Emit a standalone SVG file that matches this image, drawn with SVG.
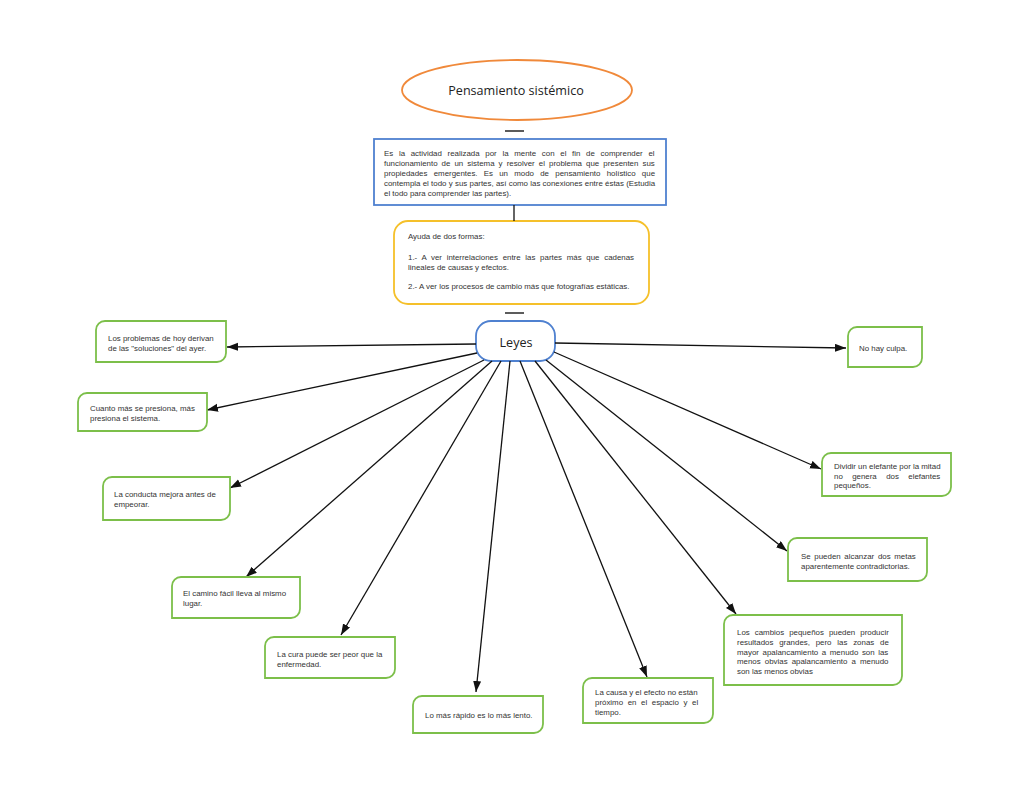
<svg xmlns="http://www.w3.org/2000/svg" width="1024" height="791" viewBox="0 0 1024 791">
<defs>
<marker id="arr" markerWidth="12" markerHeight="9" refX="11" refY="4" orient="auto" markerUnits="userSpaceOnUse">
<path d="M0,0 L11,4 L0,8 z" fill="#111"/>
</marker>
<style>
.t{font-family:"Liberation Sans",Arial,sans-serif;font-size:7.9px;fill:#333}
.big{font-family:"Open Sans","Noto Sans",sans-serif;font-size:12.6px;fill:#222}
.g{fill:#fff;stroke:#7cbf4a;stroke-width:1.8}
.c{stroke:#111;stroke-width:1.3;fill:none;marker-end:url(#arr)}
.d{stroke:#333;stroke-width:1.6}
</style>
</defs>
<rect width="1024" height="791" fill="#fff"/>

<g id="title">
<ellipse cx="517" cy="90" rx="115" ry="30" fill="#fff" stroke="#f0893a" stroke-width="1.8"/>
<text class="big" x="516" y="94.5" text-anchor="middle">Pensamiento sistémico</text>
</g>
<line class="d" x1="505" y1="131" x2="524" y2="131"/>

<g id="definicion">
<rect x="374" y="139" width="292" height="66" fill="#fff" stroke="#4f81d0" stroke-width="1.8"/>
<text class="t" x="384" y="156" word-spacing="3.5">Es la actividad realizada por la mente con el fin de comprender el</text>
<text class="t" x="384" y="166" word-spacing="1.9">funcionamiento de un sistema y resolver el problema que presenten sus</text>
<text class="t" x="384" y="176" word-spacing="4.05">propiedades emergentes. Es un modo de pensamiento holístico que</text>
<text class="t" x="384" y="186" word-spacing="0.08">contempla el todo y sus partes, así como las conexiones entre éstas (Estudia</text>
<text class="t" x="384" y="196">el todo para comprender las partes).</text>
</g>

<g id="ayuda">
<rect x="394" y="221" width="255" height="83" rx="14" ry="14" fill="#fff" stroke="#f5c02a" stroke-width="1.8"/>
<text class="t" x="408" y="239">Ayuda de dos formas:</text>
<text class="t" x="408" y="260" word-spacing="2.5">1.- A ver interrelaciones entre las partes más que cadenas</text>
<text class="t" x="408" y="269.5">lineales de causas y efectos.</text>
<text class="t" x="408" y="289">2.- A ver los procesos de cambio más que fotografías estáticas.</text>
</g>
<line class="d" x1="505" y1="313" x2="524" y2="313"/>

<g id="leyes">
<rect x="476" y="321" width="79" height="40" rx="15" ry="15" fill="#fff" stroke="#4f81d0" stroke-width="1.8"/>
<text class="big" x="516" y="347" text-anchor="middle">Leyes</text>
</g>

<g id="connectors">
<line x1="514" y1="205" x2="514" y2="221" stroke="#111" stroke-width="1.3"/>
<line class="c" x1="476" y1="344" x2="227" y2="347"/>
<line class="c" x1="477" y1="353" x2="207" y2="410"/>
<line class="c" x1="484" y1="360" x2="230" y2="488"/>
<line class="c" x1="492" y1="361" x2="246" y2="577"/>
<line class="c" x1="501" y1="361" x2="341" y2="635"/>
<line class="c" x1="510" y1="361" x2="476" y2="692"/>
<line class="c" x1="520" y1="361" x2="647" y2="677"/>
<line class="c" x1="535" y1="361" x2="736" y2="614"/>
<line class="c" x1="555" y1="343" x2="846" y2="348"/>
<line class="c" x1="554" y1="352" x2="821" y2="469"/>
<line class="c" x1="546" y1="360" x2="787" y2="551"/>
</g>

<g id="n1">
<path class="g" d="M105,321 H226 V353 A9 9 0 0 1 217,362 H96 V330 A9 9 0 0 1 105,321 Z"/>
<text class="t" x="108" y="341">Los problemas de hoy derivan</text>
<text class="t" x="108" y="351">de las "soluciones" del ayer.</text>
</g>
<g id="n2">
<path class="g" d="M87,393 H207 V422 A9 9 0 0 1 198,431 H78 V402 A9 9 0 0 1 87,393 Z"/>
<text class="t" x="90" y="411">Cuanto más se presiona, más</text>
<text class="t" x="90" y="421">presiona el sistema.</text>
</g>
<g id="n3">
<path class="g" d="M112,477 H230 V511 A9 9 0 0 1 221,520 H103 V486 A9 9 0 0 1 112,477 Z"/>
<text class="t" x="114" y="496.5">La conducta mejora antes de</text>
<text class="t" x="114" y="506.5">empeorar.</text>
</g>
<g id="n4">
<path class="g" d="M181,577 H300 V609 A9 9 0 0 1 291,618 H172 V586 A9 9 0 0 1 181,577 Z"/>
<text class="t" x="183" y="596">El camino fácil lleva al mismo</text>
<text class="t" x="183" y="606">lugar.</text>
</g>
<g id="n5">
<path class="g" d="M274,637 H395 V669 A9 9 0 0 1 386,678 H265 V646 A9 9 0 0 1 274,637 Z"/>
<text class="t" x="277" y="656.5">La cura puede ser peor que la</text>
<text class="t" x="277" y="666.5">enfermedad.</text>
</g>
<g id="n6">
<path class="g" d="M422,696 H543 V724 A9 9 0 0 1 534,733 H413 V705 A9 9 0 0 1 422,696 Z"/>
<text class="t" x="425" y="717.5">Lo más rápido es lo más lento.</text>
</g>
<g id="n7">
<path class="g" d="M592,678 H713 V714 A9 9 0 0 1 704,723 H583 V687 A9 9 0 0 1 592,678 Z"/>
<text class="t" x="595" y="694.5">La causa y el efecto no están</text>
<text class="t" x="595" y="704.5" word-spacing="2.4">próximo en el espacio y el</text>
<text class="t" x="595" y="714.5">tiempo.</text>
</g>
<g id="n8">
<path class="g" d="M733,615 H902 V676 A9 9 0 0 1 893,685 H724 V624 A9 9 0 0 1 733,615 Z"/>
<text class="t" x="737" y="635" word-spacing="2.85">Los cambios pequeños pueden producir</text>
<text class="t" x="737" y="644.8" word-spacing="3.6">resultados grandes, pero las zonas de</text>
<text class="t" x="737" y="654.6" word-spacing="1.4">mayor apalancamiento a menudo son las</text>
<text class="t" x="737" y="664.4" word-spacing="1.9">menos obvias apalancamiento a menudo</text>
<text class="t" x="737" y="674.2">son las menos obvias</text>
</g>
<g id="n9">
<path class="g" d="M857,327 H922 V358 A9 9 0 0 1 913,367 H848 V336 A9 9 0 0 1 857,327 Z"/>
<text class="t" x="859" y="350.5">No hay culpa.</text>
</g>
<g id="n10">
<path class="g" d="M831,453 H951 V487 A9 9 0 0 1 942,496 H822 V462 A9 9 0 0 1 831,453 Z"/>
<text class="t" x="834" y="468.5">Dividir un elefante por la mitad</text>
<text class="t" x="834" y="478.5" word-spacing="7.2">no genera dos elefantes</text>
<text class="t" x="834" y="488">pequeños.</text>
</g>
<g id="n11">
<path class="g" d="M797,538 H927 V572 A9 9 0 0 1 918,581 H788 V547 A9 9 0 0 1 797,538 Z"/>
<text class="t" x="801" y="558.5" word-spacing="1.5">Se pueden alcanzar dos metas</text>
<text class="t" x="801" y="568.5">aparentemente contradictorias.</text>
</g>
</svg>
